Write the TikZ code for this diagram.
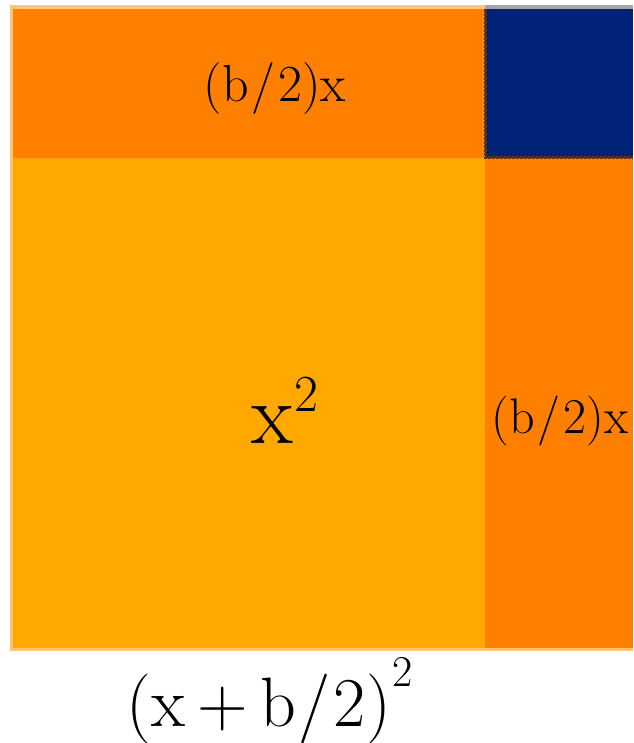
\documentclass[tikz,border=0pt]{standalone}
\definecolor{darkorange}{RGB}{255,128,0}
\definecolor{lightorange}{RGB}{255,168,0}
\definecolor{navyblue}{RGB}{0,34,119}
\definecolor{paleedge}{RGB}{255,196,120}
\newcommand{\supr}[3]{\raisebox{#2}{\fontsize{#1}{#1}\selectfont #3}}
\tikzset{
  lbl/.style={inner sep=0pt, anchor=base, text=black},
}
\begin{document}
\begin{tikzpicture}[x=1pt,y=-1pt]
\useasboundingbox (0,0) rectangle (633,743);
\fill[white] (0,0) rectangle (633,743);
% regions
\fill[darkorange] (10,5) rectangle (485,158);
\fill[navyblue] (485,5) rectangle (633,158);
\fill[lightorange] (10,158) rectangle (485,651);
\fill[darkorange] (485,158) rectangle (633,651);
% pale edges
\fill[paleedge] (10,5) rectangle (485,9);
\fill[gray!70] (485,5) rectangle (633,9);
\fill[paleedge] (10,5) rectangle (13,651);
\fill[paleedge] (10,648) rectangle (633,651);
\draw[densely dotted, line width=3pt, draw=black!60!darkorange] (485,9) -- (485,158) -- (633,158);
% labels
\node[lbl] (top) at (275,102) {\fontsize{52}{52}\selectfont (b\kern3pt/\kern3pt2)x};
\node[lbl] (right) at (560,433) {\fontsize{50}{50}\selectfont (b\kern3pt/\kern3pt2)x};
\node[lbl] (sq) at (285,443) {\fontsize{86}{86}\selectfont x\kern2pt\supr{52}{32pt}{2}};
\node[lbl] (bottom) at (270,726) {\fontsize{70}{70}\selectfont (x\kern12pt+\kern12pt b\kern3pt/\kern3pt2)\kern2pt\supr{44}{40pt}{2}};
\end{tikzpicture}
\end{document}
